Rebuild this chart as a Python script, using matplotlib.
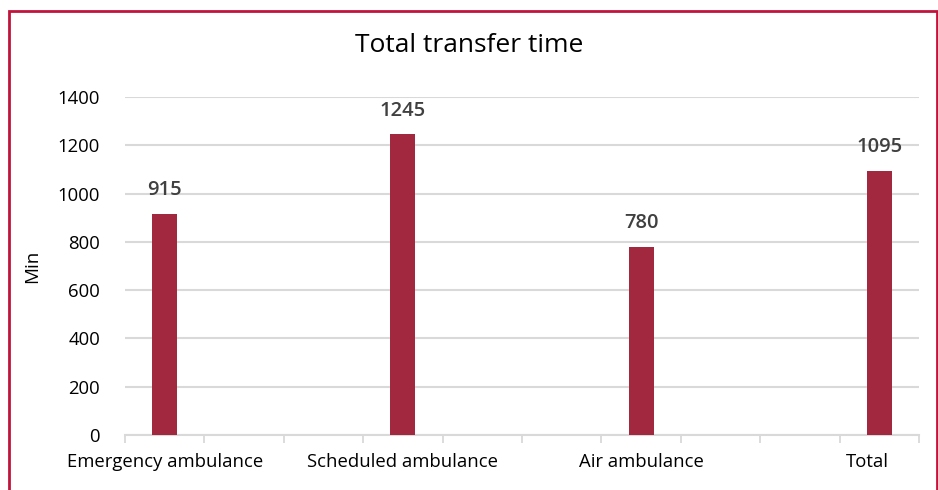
import numpy as np
import matplotlib
matplotlib.use('Agg')
import matplotlib.pyplot as plt
import matplotlib.transforms as mtrans
from matplotlib.patches import Rectangle

plt.rcParams['font.family'] = ['Open Sans', 'DejaVu Sans']

# category slots on the axis (Excel sheet had blank columns between them)
slots = ['Emergency ambulance', '', '', 'Scheduled ambulance', '', '',
         'Air ambulance', '', '', 'Total']
values = [915, np.nan, np.nan, 1245, np.nan, np.nan, 780, np.nan, np.nan, 1095]

bar_col = '#A1283F'
grid_col = '#D9D9D9'

fig = plt.figure(figsize=(9.38, 4.90), dpi=100)
ax = fig.add_axes([125/938, 1 - 435/490, (919-125)/938, (435-97)/490])

x = np.arange(len(slots)) + 0.5
ax.bar(x, values, width=0.315, color=bar_col, zorder=3)
for xi, v in zip(x, values):
    if not np.isnan(v):
        ax.annotate(f'{v:.0f}', (xi, v), xytext=(0, 10), textcoords='offset points',
                    ha='center', va='bottom', fontsize=14.5, fontweight='semibold',
                    color='#404040')

ax.set_xlim(0, len(slots))
ax.set_ylim(0, 1400)
ax.set_yticks(range(0, 1401, 200))
ax.yaxis.grid(True, color=grid_col, linewidth=1.5, zorder=0)
ax.set_axisbelow(True)

# minor ticks on the slot borders, labels at the named slots
ax.set_xticks(np.arange(len(slots) + 1), minor=True)
ax.tick_params(axis='x', which='minor', length=6, width=1.3, color=grid_col)
lab_idx = [i for i, s in enumerate(slots) if s]
ax.set_xticks(x[lab_idx])
ax.set_xticklabels([slots[i] for i in lab_idx])
ax.tick_params(axis='x', which='major', length=0, pad=13, labelsize=13.3)
ax.tick_params(axis='y', length=0, pad=18, labelsize=13.3)

# "Total" sits a bit left of its bar in the original
lab = ax.get_xticklabels()[-1]
lab.set_transform(lab.get_transform() + mtrans.ScaledTranslation(-0.12, 0, fig.dpi_scale_trans))

for s in ['top', 'right', 'left']:
    ax.spines[s].set_visible(False)
ax.spines['bottom'].set_color(grid_col)
ax.spines['bottom'].set_linewidth(1.5)

ax.set_ylabel('Min', fontsize=13.5, labelpad=12)
fig.text(0.5, 1 - 45/490, 'Total transfer time', ha='center', va='center', fontsize=19)

fig.patches.append(Rectangle((9/938, -0.02), (937-9)/938, 1 - 11/490 + 0.02,
                             transform=fig.transFigure, fill=False,
                             edgecolor='#C0143C', linewidth=2))

fig.savefig('out.png', dpi=100)
